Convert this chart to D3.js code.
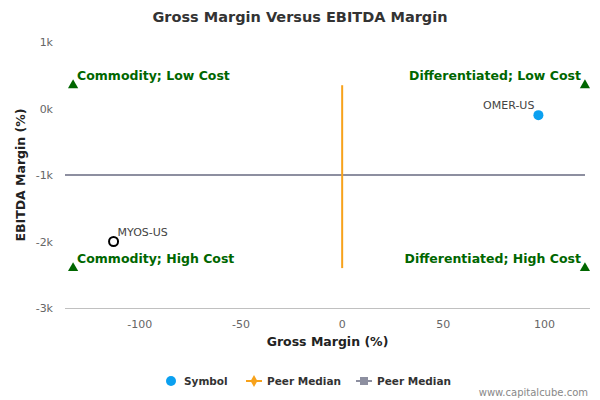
<!DOCTYPE html><html><head><meta charset="utf-8">
<script src="https://cdn.jsdelivr.net/npm/d3@7"></script>
<style>body{margin:0;background:#fff;font-family:"DejaVu Sans",sans-serif}</style></head><body>
<svg id="c" width="600" height="400"></svg>
<script>
const symbols=["OMER-US","MYOS-US"];
const grossMargin=[97,-113];
const ebitdaMargin=[-100,-2000];
const isMain=[true,false];
const xTicks=[-100,-50,0,50,100];
const yTicks=[1000,0,-1000,-2000,-3000];
const yTickLabels=["1k","0k","-1k","-2k","-3k"];
const medianX=0, medianY=-1000;
const quadLabels=["Commodity; Low Cost","Differentiated; Low Cost","Commodity; High Cost","Differentiated; High Cost"];
const quadX=[-133,120,-133,120], quadY=[350,350,-2400,-2400];

const svg=d3.select("#c");
const L=65,R=590,T=42,B=308;
const x=d3.scaleLinear().domain([-137,122.5]).range([L,R]);
const y=d3.scaleLinear().domain([-3000,1000]).range([B,T]);
svg.append("text").attr("x",300).attr("y",22).attr("text-anchor","middle").attr("font-size",14.5).attr("font-weight","bold").attr("fill","#333").text("Gross Margin Versus EBITDA Margin");
svg.append("line").attr("x1",L).attr("x2",R).attr("y1",B+0.5).attr("y2",B+0.5).attr("stroke","#c0c0c0");
svg.selectAll(".xt").data(xTicks).join("text").attr("x",d=>x(d)).attr("y",B+20).attr("text-anchor","middle").attr("font-size",11).attr("fill","#666").text(d=>d);
svg.selectAll(".yt").data(yTicks).join("text").attr("x",L-12).attr("y",d=>y(d)+4).attr("text-anchor","end").attr("font-size",11).attr("fill","#666").text((d,i)=>yTickLabels[i]);
svg.append("text").attr("x",(L+R)/2).attr("y",B+38).attr("text-anchor","middle").attr("font-size",12.5).attr("font-weight","bold").attr("fill","#222").text("Gross Margin (%)");
svg.append("text").attr("transform",`translate(25,${(T+B)/2}) rotate(-90)`).attr("text-anchor","middle").attr("font-size",12.5).attr("font-weight","bold").attr("fill","#222").text("EBITDA Margin (%)");
svg.append("line").attr("x1",L).attr("x2",585).attr("y1",y(medianY)).attr("y2",y(medianY)).attr("stroke","#8d8fa0").attr("stroke-width",2);
svg.append("line").attr("x1",x(medianX)).attr("x2",x(medianX)).attr("y1",y(350)).attr("y2",y(-2400)).attr("stroke","#f7a21b").attr("stroke-width",2);
const tri=d3.symbol().type(d3.symbolTriangle).size(45);
quadLabels.forEach((t,i)=>{
 svg.append("path").attr("d",tri).attr("transform",`translate(${x(quadX[i])},${y(quadY[i])})`).attr("fill","#006600");
 const left=i%2===0;
 svg.append("text").attr("x",left?x(quadX[i])+4:x(quadX[i])-4).attr("y",y(quadY[i])-5).attr("text-anchor",left?"start":"end").attr("font-size",12.5).attr("font-weight","bold").attr("fill","#006600").text(t);
});
symbols.forEach((s,i)=>{
 const cx=x(grossMargin[i]),cy=y(ebitdaMargin[i]);
 svg.append("circle").attr("cx",cx).attr("cy",cy).attr("r",isMain[i]?5:4.5).attr("fill",isMain[i]?"#0ba0f0":"#fff").attr("stroke",isMain[i]?"none":"#000").attr("stroke-width",2);
 svg.append("text").attr("x",isMain[i]?cx-4:cx+4).attr("y",cy-6).attr("text-anchor",isMain[i]?"end":"start").attr("font-size",11).attr("fill","#444").text(s);
});
const lg=svg.append("g").attr("font-size",10.5).attr("font-weight","bold").attr("fill","#333");
lg.append("circle").attr("cx",171).attr("cy",381).attr("r",5).attr("fill","#0ba0f0");
lg.append("text").attr("x",184).attr("y",385).text("Symbol");
lg.append("line").attr("x1",246).attr("x2",262).attr("y1",381).attr("y2",381).attr("stroke","#f7a21b").attr("stroke-width",2);
lg.append("path").attr("d",d3.symbol().type(d3.symbolDiamond).size(40)).attr("transform","translate(254,381)").attr("fill","#f7a21b");
lg.append("text").attr("x",267).attr("y",385).text("Peer Median");
lg.append("line").attr("x1",356).attr("x2",372).attr("y1",381).attr("y2",381).attr("stroke","#8d8fa0").attr("stroke-width",2);
lg.append("rect").attr("x",360).attr("y",377).attr("width",8).attr("height",8).attr("fill","#8d8fa0");
lg.append("text").attr("x",377).attr("y",385).text("Peer Median");
svg.append("text").attr("x",588).attr("y",396).attr("text-anchor","end").attr("font-size",10).attr("fill","#888").text("www.capitalcube.com");
</script></body></html>
